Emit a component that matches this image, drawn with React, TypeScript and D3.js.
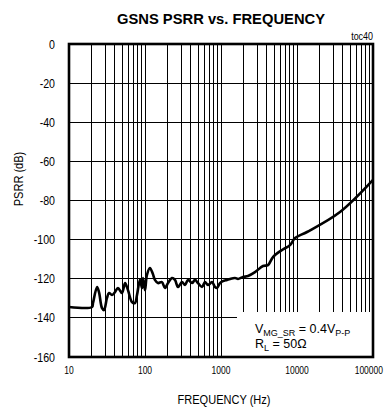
import React from "react";
import * as d3 from "d3";

const FREQ = [10, 20.1, 20.7, 23.4, 24.8, 27.2, 28.9, 31.6, 33.6, 36.8, 40.3, 44.1, 49.8, 54.6, 59.7, 67.4, 73.8, 78.5, 85.9, 91.4, 94.2, 100, 106, 116, 127, 135, 148, 167, 183, 201, 227, 248, 272, 307, 336, 368, 415, 455, 498, 562, 615, 674, 762, 834, 886, 970, 1062, 1199, 1312, 1528, 1675, 1946, 2265, 2800, 3570, 4150, 4830, 6350, 8090, 9420, 13550, 36800, 100000];
const PSRR = [-134.4, -134.4, -132.4, -124.3, -126.8, -135.0, -136.0, -129.8, -127.3, -128.3, -126.8, -124.7, -127.3, -122.2, -125.8, -131.9, -132.4, -128.3, -120.6, -124.7, -119.6, -125.8, -118.1, -114.5, -117.6, -120.6, -122.2, -121.7, -124.7, -122.2, -119.6, -120.6, -124.2, -121.7, -123.2, -120.6, -122.2, -120.6, -122.2, -124.2, -121.7, -123.2, -121.7, -124.2, -124.7, -122.2, -121.2, -120.6, -120.1, -119.6, -120.1, -119.1, -118.6, -116.6, -113.5, -113.0, -108.9, -105.3, -102.8, -99.2, -96.1, -85.9, -69.5];

const X_TICKS = [10, 100, 1000, 10000, 100000];
const X_TICK_LABELS = ["10", "100", "1000", "10000", "100000"];
const Y_TICKS = [0, -20, -40, -60, -80, -100, -120, -140, -160];
const Y_TICK_LABELS = ["0", "-20", "-40", "-60", "-80", "-100", "-120", "-140", "-160"];

const TITLE = "GSNS PSRR vs. FREQUENCY";
const X_TITLE = "FREQUENCY (Hz)";
const Y_TITLE = "PSRR (dB)";
const TAG = "toc40";

const W = 384;
const H = 408;
const L = 69;
const R = 373;
const T = 44;
const B = 357;
const FONT = "'Liberation Sans', Arial, sans-serif";
const SX = 0.85;

export default function App() {
  const x = d3.scaleLog().domain([10, 100000]).range([L, R]);
  const y = d3.scaleLinear().domain([-160, 0]).range([B, T]);

  const minor: number[] = [];
  for (let dec = 10; dec < 100000; dec *= 10) {
    for (let m = 2; m <= 9; m++) minor.push(dec * m);
  }
  const pts = FREQ.map((f, i) => [f, PSRR[i]] as [number, number]);
  const line = d3
    .line<[number, number]>()
    .x((d) => x(d[0]))
    .y((d) => y(d[1]))
    .curve(d3.curveCatmullRom.alpha(0.5));

  return (
    <svg
      width={W}
      height={H}
      style={{ position: "absolute", left: 0, top: 0, background: "#fff" }}
      fontFamily={FONT}
    >
      <rect x={0} y={0} width={W} height={H} fill="#fff" />
      <text x={(L + R) / 2} y={24} textAnchor="middle" fontSize={15} fontWeight="bold" textLength={208} lengthAdjust="spacingAndGlyphs">
        {TITLE}
      </text>
      <text transform={`translate(${R},40) scale(${SX},1)`} textAnchor="end" fontSize={10.5}>
        {TAG}
      </text>
      <g shapeRendering="crispEdges" stroke="#000" strokeWidth={1}>
        {minor.concat(X_TICKS.slice(1, -1)).map((f) => (
          <line key={"v" + f} x1={x(f)} x2={x(f)} y1={T} y2={B} />
        ))}
        {Y_TICKS.slice(1, -1).map((v) => (
          <line key={"h" + v} x1={L} x2={R} y1={y(v)} y2={y(v)} />
        ))}
      </g>
      <rect x={237} y={312} width={R - 237 - 1} height={B - 312 - 1} fill="#fff" />
      <path d={line(pts) || ""} fill="none" stroke="#000" strokeWidth={2.6} strokeLinejoin="round" />
      <rect x={L} y={T} width={R - L} height={B - T} fill="none" stroke="#000" strokeWidth={2.6} />
      {Y_TICKS.map((v, i) => (
        <text key={"yl" + v} transform={`translate(55,${y(v) + 4.5}) scale(${SX},1)`} textAnchor="end" fontSize={12.5}>
          {Y_TICK_LABELS[i]}
        </text>
      ))}
      {X_TICKS.map((f, i) => {
        const last = i === X_TICKS.length - 1;
        return (
          <text
            key={"xl" + f}
            transform={`translate(${last ? 383 : x(f)},374) scale(${SX},1)`}
            textAnchor={last ? "end" : "middle"}
            fontSize={10}
          >
            {X_TICK_LABELS[i]}
          </text>
        );
      })}
      <text transform={`translate(224,404) scale(${SX},1)`} textAnchor="middle" fontSize={13}>
        {X_TITLE}
      </text>
      <text transform={`translate(23,179) rotate(-90) scale(${SX},1)`} textAnchor="middle" fontSize={13}>
        {Y_TITLE}
      </text>
      <text x={255} y={333} fontSize={12.5}>
        V<tspan fontSize={9} dy={3}>MG_SR</tspan>
        <tspan dy={-3}> = 0.4V</tspan>
        <tspan fontSize={9} dy={3}>P-P</tspan>
      </text>
      <text x={255} y={348} fontSize={12.5}>
        R<tspan fontSize={9} dy={3}>L</tspan>
        <tspan dy={-3}> = 50Ω</tspan>
      </text>
    </svg>
  );
}
